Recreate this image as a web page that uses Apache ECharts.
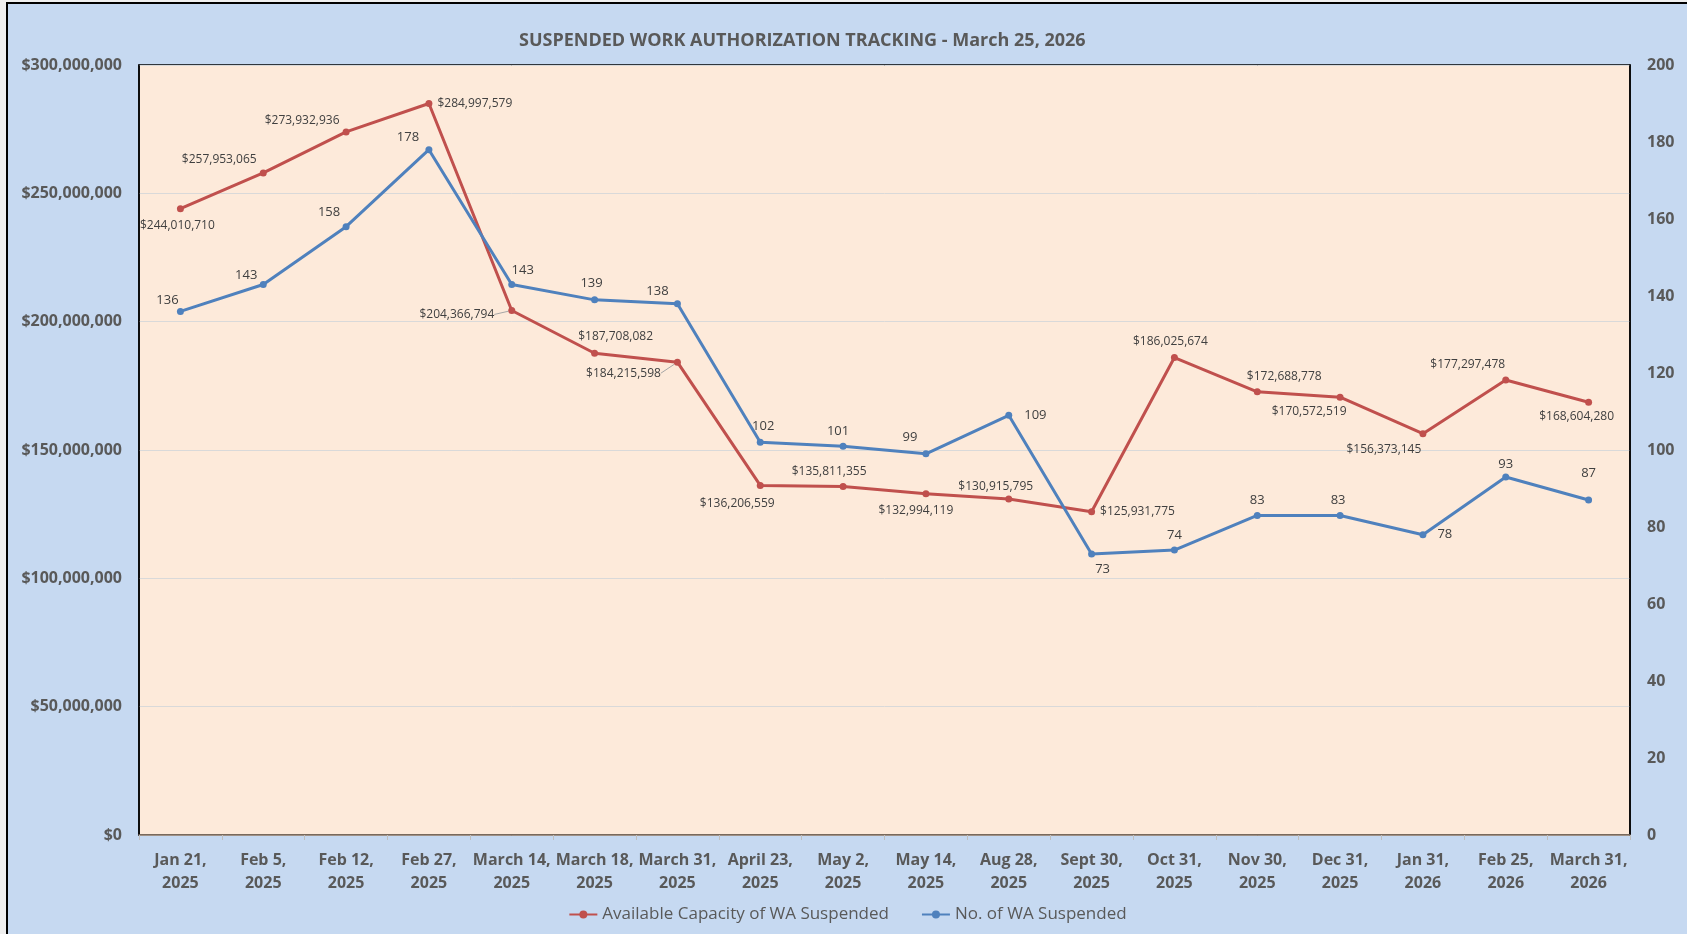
<!DOCTYPE html>
<html>
<head>
<meta charset="utf-8">
<script src="https://cdn.jsdelivr.net/npm/echarts@6/dist/echarts.min.js"></script>
<style>
html,body{margin:0;padding:0;background:#efefef;}
#frame{position:absolute;left:6px;top:2px;width:1679px;height:930px;border-left:2px solid #000;border-top:2px solid #000;}
#main{width:1679px;height:930px;}
</style>
</head>
<body>
<div id="frame"><div id="main"></div></div>
<script>
var categories = ['Jan 21,\n2025','Feb 5,\n2025','Feb 12,\n2025','Feb 27,\n2025','March 14,\n2025','March 18,\n2025','March 31,\n2025','April 23,\n2025','May 2,\n2025','May 14,\n2025','Aug 28,\n2025','Sept 30,\n2025','Oct 31,\n2025','Nov 30,\n2025','Dec 31,\n2025','Jan 31,\n2026','Feb 25,\n2026','March 31,\n2026'];
var capacity = [244010710,257953065,273932936,284997579,204366794,187708082,184215598,136206559,135811355,132994119,130915795,125931775,186025674,172688778,170572519,156373145,177297478,168604280];
var counts = [136,143,158,178,143,139,138,102,101,99,109,73,74,83,83,78,93,87];

// label placement per point
var capPos = ['bottom','top','top','right','left','top','left','bottom','top','bottom','top','right','top','top','bottom','bottom','top','bottom'];
var capOff = [[-3,2],[-44,1],[-44,3],[0,0],[-9,4],[21,-2],[-8,11],[-23,4],[-14,0],[-10,2],[-13,2],[0,0],[-4,-1],[27,-1],[-31,0],[-39,1],[-38,-1],[-12,0]];
var cntPos = ['top','top','top','top','top','top','top','top','top','top','right','bottom','top','top','top','right','top','top'];
var cntOff = [[-13,4],[-17,6],[-17,1],[-21,3],[11,1],[-3,-2],[-20,3],[3,-1],[-5,0],[-16,-2],[7,0],[11,0],[0,0],[0,0],[-2,0],[6,0],[0,2],[0,-12]];
// these two labels get a leader line back to their point
var withLeader = [4,6];

function fmtMoney(v){
  return '$' + v.toString().replace(/\B(?=(\d{3})+(?!\d))/g, ',');
}

var capData = capacity.map(function(v,i){
  var d = {value:v, label:{position:capPos[i]}};
  if(withLeader.indexOf(i) >= 0) d.labelLine = {show:true};
  return d;
});
var cntData = counts.map(function(v,i){
  return {value:v, label:{position:cntPos[i], offset:cntOff[i]}};
});

var myChart = echarts.init(document.getElementById('main'));
var option = {
  backgroundColor:'#C6D9F1',
  textStyle:{fontFamily:'Open Sans'},
  title:{
    text:'SUSPENDED WORK AUTHORIZATION TRACKING - March 25, 2026',
    left:506, top:23,
    textStyle:{color:'#595959', fontSize:18, fontWeight:'bold', fontFamily:'Open Sans'}
  },
  legend:{
    bottom:6, left:'center',
    itemWidth:28, itemHeight:10, itemGap:32,
    textStyle:{color:'#595959', fontSize:17, fontFamily:'Open Sans'},
    data:['Available Capacity of WA Suspended','No. of WA Suspended']
  },
  grid:{left:131, right:57, top:61, bottom:99, show:true, backgroundColor:'#FDEADA', borderColor:'#000', borderWidth:1.5},
  xAxis:{
    type:'category', data:categories, boundaryGap:true,
    axisLine:{lineStyle:{color:'#8c7a6b', width:1.5}},
    axisTick:{show:true, lineStyle:{color:'#bfbfbf'}, length:5},
    axisLabel:{color:'#595959', fontSize:16, fontWeight:'bold', lineHeight:23, margin:14, interval:0, fontFamily:'Open Sans'}
  },
  yAxis:[{
    type:'value', min:0, max:300000000, interval:50000000,
    axisLine:{show:true, lineStyle:{color:'#000', width:1.5}},
    axisTick:{show:false},
    splitLine:{lineStyle:{color:'#d9d9d9', width:1}},
    axisLabel:{color:'#595959', fontSize:16, fontWeight:'bold', margin:17, fontFamily:'Open Sans',
      formatter:function(v){ return fmtMoney(v); }}
  },{
    type:'value', min:0, max:200, interval:20,
    axisLine:{show:true, lineStyle:{color:'#000', width:1.5}},
    axisTick:{show:false},
    splitLine:{show:false},
    axisLabel:{color:'#595959', fontSize:16, fontWeight:'bold', margin:17, fontFamily:'Open Sans'}
  }],
  series:[{
    name:'Available Capacity of WA Suspended',
    type:'line', yAxisIndex:0, data:capData,
    symbol:'circle', symbolSize:7,
    lineStyle:{color:'#C0504D', width:3},
    itemStyle:{color:'#C0504D'},
    label:{show:true, color:'#404040', fontSize:12, fontFamily:'Open Sans',
      formatter:function(p){ return fmtMoney(p.value); }},
    labelLine:{show:false, lineStyle:{color:'#a6a6a6', width:1}},
    labelLayout:function(p){
      var o = capOff[p.dataIndex];
      return {dx:o[0], dy:o[1]};
    },
    z:3
  },{
    name:'No. of WA Suspended',
    type:'line', yAxisIndex:1, data:cntData,
    symbol:'circle', symbolSize:7,
    lineStyle:{color:'#4F81BD', width:3},
    itemStyle:{color:'#4F81BD'},
    label:{show:true, color:'#404040', fontSize:13, fontFamily:'Open Sans'},
    z:4
  }]
};
myChart.setOption(option);
</script>
</body>
</html>
